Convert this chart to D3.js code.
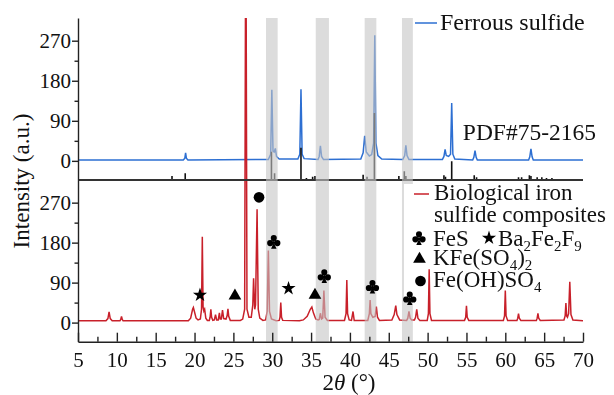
<!DOCTYPE html>
<html>
<head>
<meta charset="utf-8">
<script src="https://cdn.jsdelivr.net/npm/d3@7"></script>
<style>
  body { margin: 0; background: #fff; }
  text { font-family: "Liberation Serif", "DejaVu Serif", serif; fill: #111; }
</style>
</head>
<body>
<svg id="chart" width="614" height="395"></svg>
<script>
// ---- data ----
var xTicks = [5, 10, 15, 20, 25, 30, 35, 40, 45, 50, 55, 60, 65, 70];
var yTicks = [0, 90, 180, 270];
var yMinor = [45, 135, 225];

// Ferrous sulfide (top trace), [2theta, intensity]
var ferrousPts = [[5,2],[18.55,2],[18.75,6],[18.85,18],[18.95,6],[19.15,2],
  [29.5,3],[29.8,15],[29.95,160],[30.1,22],[30.25,20],[30.4,28],[30.55,10],[30.9,4],
  [33.3,4],[33.55,15],[33.7,161],[33.85,15],[34.1,5],
  [35.9,3],[36.05,10],[36.2,34],[36.35,10],[36.6,3],
  [41.4,4],[41.7,18],[41.9,56],[42.1,20],[42.5,11],[42.8,14],[43.05,40],[43.2,282],[43.35,40],[43.6,12],[44.1,4],
  [46.8,3],[47.05,12],[47.2,35],[47.35,12],[47.6,3],
  [51.9,3],[52.1,10],[52.25,26],[52.4,12],[52.7,10],[52.95,15],[53.1,130],[53.25,15],[53.5,4],
  [55.8,2],[55.95,8],[56.1,23],[56.25,8],[56.4,2],
  [63.0,2],[63.15,9],[63.3,27],[63.45,9],[63.6,2],[70,2]];

// PDF#75-2165 reference sticks: position and relative intensity
var pdfPos = [15.1,17.1,18.8,22.9,28.6,29.9,30.3,33.7,34.4,35.2,35.5,38.0,41.7,42.2,43.15,46.3,47.0,47.2,
  48.9,49.5,52.1,52.3,53.1,56.0,56.3,57.1,57.8,58.7,61.7,62.1,63.1,63.3,64.1,64.7,65.3,66.0,67.1,69.8];
var pdfRel = [1.5,6,10,1.5,1.5,42,10,48,3,5,6,1.5,8,5,100,6,13,6,
  1.5,1.5,7,5,28,7,4,1.5,1.5,1.5,4,4,7,6,4,4,3,3,1.5,1.5];

// Biological iron sulfide composites (bottom trace)
var bioPts = [[5,4],[8.6,4],[8.85,9],[9.0,24],[9.15,9],[9.4,4],
  [10.4,4],[10.5,7],[10.6,14],[10.7,7],[10.8,4],
  [19.2,4],[19.5,10],[19.75,30],[19.85,34],[20.0,24],[20.2,10],[20.45,6],
  [20.75,8],[20.9,30],[21.0,193],[21.1,35],[21.2,26],[21.3,30],[21.45,10],[21.65,5],
  [21.9,5],[22.0,12],[22.1,30],[22.2,12],[22.35,5],
  [22.55,6],[22.7,18],[22.85,6],[23.05,6],[23.2,22],[23.3,8],
  [23.45,8],[23.6,28],[23.75,9],[24.05,8],[24.2,16],[24.3,31],[24.4,14],[24.6,5],
  [25.9,5],[26.2,8],[26.45,30],[26.6,1000],[26.75,30],[27.0,12],
  [27.3,12],[27.5,40],[27.6,100],[27.75,30],[27.85,40],[28.05,255],[28.2,30],[28.4,10],[28.8,5],
  [29.15,6],[29.35,25],[29.5,162],[29.65,25],[29.9,8],[30.5,4],
  [30.9,5],[31.0,12],[31.1,45],[31.2,12],[31.35,5],
  [33.5,4],[34.0,6],[34.5,14],[34.9,30],[35.1,35],[35.3,22],[35.6,8],[35.9,6],
  [36.05,7],[36.2,21],[36.35,8],[36.5,10],[36.65,72],[36.8,12],[37.1,5],
  [39.3,5],[39.5,20],[39.6,96],[39.7,20],[39.9,6],[40.2,5],[40.4,25],[40.55,5],
  [42.3,5],[42.5,20],[42.6,51],[42.7,20],[42.95,12],[43.25,14],[43.4,36],[43.55,12],[43.8,5],
  [45.4,6],[45.7,18],[45.9,38],[46.05,18],[46.4,6],
  [47.3,5],[47.45,10],[47.6,25],[47.75,10],[47.95,6],[48.3,6],[48.45,12],[48.6,30],[48.75,10],[49.0,5],
  [49.95,5],[50.1,20],[50.2,120],[50.3,20],[50.5,5],
  [54.75,5],[54.9,12],[55.0,38],[55.1,12],[55.3,5],
  [59.75,5],[59.9,15],[60.0,72],[60.1,15],[60.3,5],
  [61.5,5],[61.6,10],[61.7,20],[61.8,10],[62.0,5],
  [64.0,5],[64.1,10],[64.2,21],[64.3,10],[64.5,5],
  [67.55,6],[67.7,15],[67.8,44],[67.9,15],[68.0,12],[68.15,20],[68.3,92],[68.45,18],[68.7,6],[70,4]];

// highlighted 2theta ranges
var bandFrom = [29.2, 35.6, 41.9, 46.7];
var bandTo   = [30.7, 37.3, 43.4, 48.1];

// phase markers on the bottom trace
var markX   = [20.7, 25.2, 28.3, 30.2, 32.1, 35.5, 36.7, 42.9, 47.7];
var markY   = [62, 60, 282, 182, 77, 62, 105, 81, 55];
var markSym = ["star", "tri", "dot", "club", "star", "tri", "club", "club", "club"];

// ---- layout ----
var svg = d3.select("#chart");
var padL = 78, padR = 583, padT = 18, midY = 180, padB = 341.7;
var blue = "#2d6fd2", red = "#c8202a";
var serif = '"Liberation Serif","DejaVu Serif",serif';

var x = d3.scaleLinear().domain([5, 70]).range([padL, padR]);
var yTop = d3.scaleLinear().domain([-43, 321]).range([midY, padT]);
var yBot = d3.scaleLinear().domain([-43, 321]).range([padB, midY]);
var stickY = d3.scaleLinear().domain([0, 100]).range([midY, 113]);

var defs = svg.append("defs");
defs.append("clipPath").attr("id", "plotClip")
  .append("rect").attr("x", padL).attr("y", padT).attr("width", padR - padL).attr("height", padB - padT);
var mask = defs.append("mask").attr("id", "legendMask");
mask.append("rect").attr("width", 614).attr("height", 395).attr("fill", "#fff");
mask.append("rect").attr("x", 404).attr("y", 184).attr("width", 210).attr("height", 112).attr("fill", "#000");

// club symbol for d3.symbol
var symbolClub = {
  draw: function(ctx, size) {
    var r = Math.sqrt(size) * 0.31;
    ctx.moveTo(r, -r * 1.2); ctx.arc(0, -r * 1.2, r, 0, 2 * Math.PI);
    ctx.moveTo(-r * 0.2, r * 0.45); ctx.arc(-r * 1.2, r * 0.45, r, 0, 2 * Math.PI);
    ctx.moveTo(r * 2.2, r * 0.45); ctx.arc(r * 1.2, r * 0.45, r, 0, 2 * Math.PI);
    ctx.moveTo(0, -r * 0.7); ctx.lineTo(r * 0.6, r * 0.7); ctx.lineTo(-r * 0.6, r * 0.7); ctx.closePath();
    ctx.moveTo(0, r * 0.3); ctx.lineTo(r * 0.9, r * 2.3); ctx.lineTo(-r * 0.9, r * 2.3); ctx.closePath();
  }
};
var symTypes = { star: d3.symbolStar, tri: d3.symbolTriangle, dot: d3.symbolCircle, club: symbolClub };
var symSize = { star: 62, tri: 70, dot: 90, club: 95 };
function sym(k) { return d3.symbol().type(symTypes[k]).size(symSize[k])(); }

var line = d3.line().x(function(d) { return x(d[0]); });

// traces
var plot = svg.append("g").attr("clip-path", "url(#plotClip)");
plot.append("path").datum(ferrousPts)
  .attr("d", line.y(function(d) { return yTop(d[1]); }))
  .attr("fill", "none").attr("stroke", blue).attr("stroke-width", 1.5);

plot.selectAll(".stick").data(pdfPos).enter().append("line")
  .attr("class", "stick")
  .attr("x1", function(d) { return x(d); }).attr("x2", function(d) { return x(d); })
  .attr("y1", stickY(0)).attr("y2", function(d, i) { return stickY(pdfRel[i]); })
  .attr("stroke", "#111").attr("stroke-width", 1.6);

svg.append("line").attr("x1", padL).attr("x2", padR).attr("y1", midY).attr("y2", midY)
  .attr("stroke", "#333").attr("stroke-width", 2);

plot.append("path").datum(bioPts)
  .attr("d", line.y(function(d) { return yBot(d[1]); }))
  .attr("fill", "none").attr("stroke", red).attr("stroke-width", 1.5);

// grey bands over the traces
svg.append("g").attr("mask", "url(#legendMask)")
  .selectAll("rect").data(bandFrom).enter().append("rect")
  .attr("x", function(d) { return x(d); })
  .attr("width", function(d, i) { return x(bandTo[i]) - x(d); })
  .attr("y", padT).attr("height", padB - padT)
  .attr("fill", "#c4c4c4").attr("opacity", 0.6);

// phase markers
svg.selectAll(".mark").data(markX).enter().append("path")
  .attr("class", "mark")
  .attr("transform", function(d, i) { return "translate(" + x(d) + "," + yBot(markY[i]) + ")"; })
  .attr("d", function(d, i) { return sym(markSym[i]); })
  .attr("fill", "#000");

// axes
function styleAxis(g) {
  g.selectAll("path, line").attr("stroke", "#222").attr("stroke-width", 1.4);
  g.selectAll("text").attr("fill", "#111").attr("font-size", 21).attr("font-family", serif)
    .style("font-size", "21px").style("font-family", serif);
}
[yTop, yBot].forEach(function(y) {
  svg.append("g").attr("transform", "translate(" + padL + ",0)")
    .call(d3.axisLeft(y).tickValues(yTicks).tickSize(6).tickSizeOuter(0).tickPadding(1))
    .call(styleAxis);
  svg.append("g").attr("transform", "translate(" + padL + ",0)")
    .call(d3.axisLeft(y).tickValues(yMinor).tickSize(3.5).tickFormat(""))
    .call(function(g) { g.select(".domain").remove(); })
    .call(styleAxis);
});
svg.append("g").attr("transform", "translate(0," + padB + ")")
  .call(d3.axisBottom(x).tickValues(xTicks).tickSizeInner(-9).tickSizeOuter(0).tickPadding(10))
  .call(styleAxis);
svg.append("g").attr("transform", "translate(0," + padB + ")")
  .call(d3.axisBottom(x).tickValues(xTicks.slice(0, -1).map(function(v) { return v + 2.5; }))
    .tickSizeInner(-5).tickFormat(""))
  .call(function(g) { g.select(".domain").remove(); })
  .call(styleAxis);

// axis titles
svg.append("text").attr("transform", "translate(29,181) rotate(-90)")
  .attr("text-anchor", "middle").style("font-size", "23px").text("Intensity (a.u.)");
var xt = svg.append("text").attr("x", 349).attr("y", 390).attr("text-anchor", "middle").style("font-size", "23px");
xt.append("tspan").text("2");
xt.append("tspan").style("font-style", "italic").text("\u03b8");
xt.append("tspan").text(" (\u00b0)");

// legends
svg.append("line").attr("x1", 415).attr("x2", 437).attr("y1", 23).attr("y2", 23)
  .attr("stroke", blue).attr("stroke-width", 1.5);
svg.append("text").attr("x", 440).attr("y", 30).style("font-size", "24px").text("Ferrous sulfide");
svg.append("text").attr("x", 596).attr("y", 140).attr("text-anchor", "end").style("font-size", "23.5px").text("PDF#75-2165");

svg.append("line").attr("x1", 414).attr("x2", 429).attr("y1", 194).attr("y2", 194)
  .attr("stroke", red).attr("stroke-width", 1.5);
svg.append("text").attr("x", 434).attr("y", 200).style("font-size", "23px").text("Biological iron");
svg.append("text").attr("x", 434).attr("y", 222).style("font-size", "23px").text("sulfide composites");

function chem(xp, yp, parts) {
  var t = svg.append("text").attr("x", xp).attr("y", yp).style("font-size", "23px");
  parts.forEach(function(p) {
    if (p.sub) t.append("tspan").attr("dy", 5).style("font-size", "15px").text(p.t);
    else t.append("tspan").attr("dy", p.after ? -5 : 0).text(p.t);
  });
}
var legendSym = [["club", 419, 238], ["star", 489, 238], ["tri", 419.5, 259], ["dot", 420.5, 281]];
svg.selectAll(".lsym").data(legendSym).enter().append("path")
  .attr("class", "lsym")
  .attr("transform", function(d) { return "translate(" + d[1] + "," + d[2] + ")"; })
  .attr("d", function(d) { return sym(d[0]); })
  .attr("fill", "#000");
chem(433, 245.5, [{t: "FeS"}]);
chem(498, 245.5, [{t: "Ba"}, {t: "2", sub: 1}, {t: "Fe", after: 1}, {t: "2", sub: 1}, {t: "F", after: 1}, {t: "9", sub: 1}]);
chem(433, 265, [{t: "KFe(SO"}, {t: "4", sub: 1}, {t: ")", after: 1}, {t: "2", sub: 1}]);
chem(433, 287, [{t: "Fe(OH)SO"}, {t: "4", sub: 1}]);
</script>
</body>
</html>
